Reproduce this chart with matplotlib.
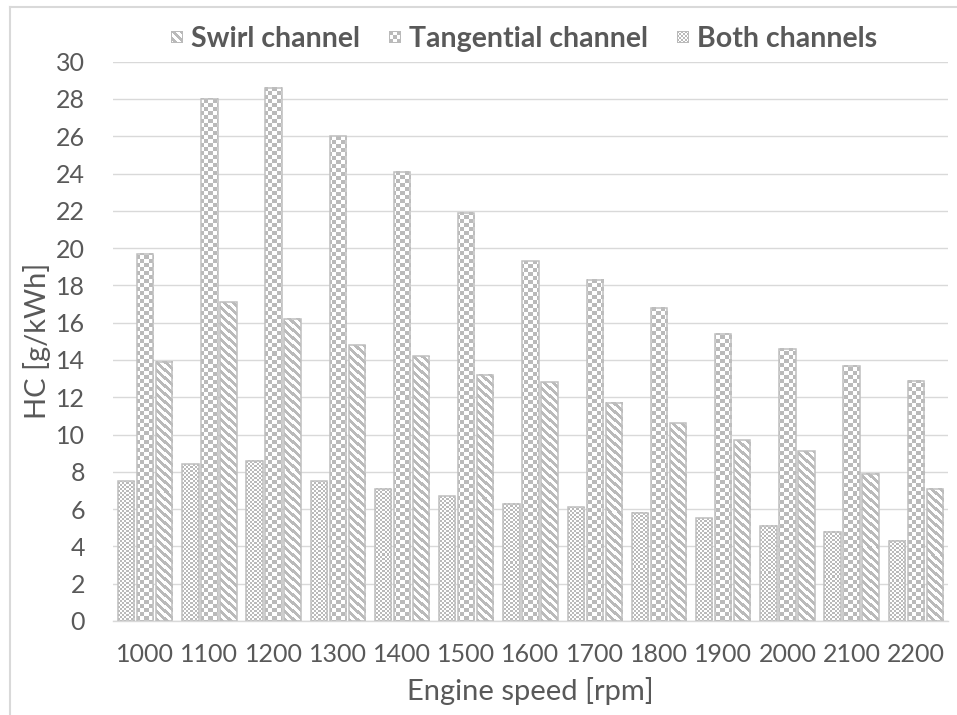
import numpy as np
import matplotlib
matplotlib.use('Agg')
import matplotlib.pyplot as plt
from matplotlib.patches import Patch
from matplotlib.lines import Line2D
from matplotlib.legend_handler import HandlerBase
from matplotlib.image import BboxImage
from matplotlib.transforms import Bbox, TransformedBbox

speeds = ['1000', '1100', '1200', '1300', '1400', '1500', '1600',
          '1700', '1800', '1900', '2000', '2100', '2200']
both = [7.5, 8.4, 8.6, 7.5, 7.1, 6.7, 6.3, 6.1, 5.8, 5.5, 5.1, 4.8, 4.3]
tangential = [19.7, 28.0, 28.6, 26.0, 24.1, 21.9, 19.3, 18.3, 16.8, 15.4, 14.6, 13.7, 12.9]
swirl = [13.9, 17.1, 16.2, 14.8, 14.2, 13.2, 12.8, 11.7, 10.6, 9.7, 9.1, 7.9, 7.1]

GRAY = np.array([186, 186, 186], dtype=np.uint8)
WHITE = np.array([255, 255, 255], dtype=np.uint8)
TEXT = '#595959'
GRID = '#D9D9D9'

plt.rcParams['font.family'] = ['Lato', 'DejaVu Sans']


def pattern_rgb(kind, cols, rows):
    # pixel patterns like the office fill presets
    if kind == 'diag':
        mask = ((cols - rows) % 8) < 4
    elif kind == 'large':
        mask = ((cols // 4 + rows // 4) % 2) == 0
    else:
        mask = ((cols // 2 + rows // 2) % 2) == 0
    mask = np.broadcast_to(mask, np.broadcast_shapes(cols.shape, rows.shape))
    return np.where(mask[..., None], GRAY, WHITE).astype(np.uint8)


class PatternHandler(HandlerBase):
    def __init__(self, kind):
        super().__init__()
        self.kind = kind

    def create_artists(self, legend, orig_handle, xdescent, ydescent,
                       width, height, fontsize, trans):
        side = min(width, height)
        bb = Bbox.from_bounds(-xdescent + width - side,
                              -ydescent + (height - side) / 2, side, side)
        img = BboxImage(TransformedBbox(bb, trans), interpolation='nearest')
        n = 12
        data = pattern_rgb(self.kind, np.arange(n)[None, :], np.arange(n)[:, None]).copy()
        # 1px outline round the swatch
        data[0, :] = data[-1, :] = data[:, 0] = data[:, -1] = GRAY
        img.set_data(data)
        return [img]


W, H = 957, 715
fig = plt.figure(figsize=(W / 100, H / 100), dpi=100)
ax = fig.add_axes([113 / W, (H - 621) / H, (948 - 113) / W, (621 - 61.7) / H])
ax.set_xlim(-0.5, len(speeds) - 0.5)
ax.set_ylim(0, 30)

x = np.arange(len(speeds))
width = 0.255
step = 0.296
series = [(both, 'small', -step), (tangential, 'large', 0.0), (swirl, 'diag', step)]

for vals, kind, off in series:
    bars = ax.bar(x + off, vals, width, facecolor='none', edgecolor='#BFBFBF',
                  linewidth=1.1, zorder=3)
    for b in bars:
        x0, x1 = b.get_x(), b.get_x() + b.get_width()
        y1 = b.get_height()
        (px0, py0), (px1, py1) = ax.transData.transform([(x0, 0), (x1, y1)])
        nc = max(int(round(px1 - px0)), 1)
        nr = max(int(round(py1 - py0)), 1)
        cols = int(round(px0)) + np.arange(nc)[None, :]
        rows = int(round(H - py1)) + np.arange(nr)[:, None]
        ax.imshow(pattern_rgb(kind, cols, rows), extent=(x0, x1, 0, y1),
                  interpolation='nearest', aspect='auto', zorder=2)

ax.set_xlim(-0.5, len(speeds) - 0.5)
ax.set_ylim(0, 30)
ax.set_xticks(x)
ax.set_xticklabels(speeds)
ax.set_yticks(range(0, 31, 2))
ax.tick_params(axis='both', length=0, labelsize=18, labelcolor=TEXT)
ax.tick_params(axis='x', pad=16)
ax.tick_params(axis='y', pad=20)
ax.yaxis.grid(True, color=GRID, linewidth=1.0)
ax.set_axisbelow(True)
for s in ('left', 'top', 'right'):
    ax.spines[s].set_visible(False)
ax.spines['bottom'].set_color(GRID)
ax.spines['bottom'].set_linewidth(1.0)

ax.set_xlabel('Engine speed [rpm]', fontsize=21, color=TEXT, labelpad=8)
ax.set_ylabel('HC [g/kWh]', fontsize=21, color=TEXT, labelpad=4)

handles = [Patch(label='Swirl channel'), Patch(label='Tangential channel'),
           Patch(label='Both channels')]
kinds = ['diag', 'large', 'small']
leg = fig.legend(handles=handles, handler_map={h: PatternHandler(k) for h, k in zip(handles, kinds)},
                 loc='center', bbox_to_anchor=(524 / W, 1 - 39 / H), ncol=3,
                 frameon=False, handlelength=0.42, handleheight=0.42, handletextpad=0.3,
                 columnspacing=1.0, prop={'weight': 'bold', 'size': 20.5})
for t in leg.get_texts():
    t.set_color(TEXT)

# outer chart frame (top and left edges)
fig.add_artist(Line2D([10 / W, 10 / W], [0, 1 - 7 / H], color=GRID, linewidth=1.5))
fig.add_artist(Line2D([10 / W, 1], [1 - 7 / H, 1 - 7 / H], color=GRID, linewidth=1.5))

fig.savefig('out.png', dpi=100)
